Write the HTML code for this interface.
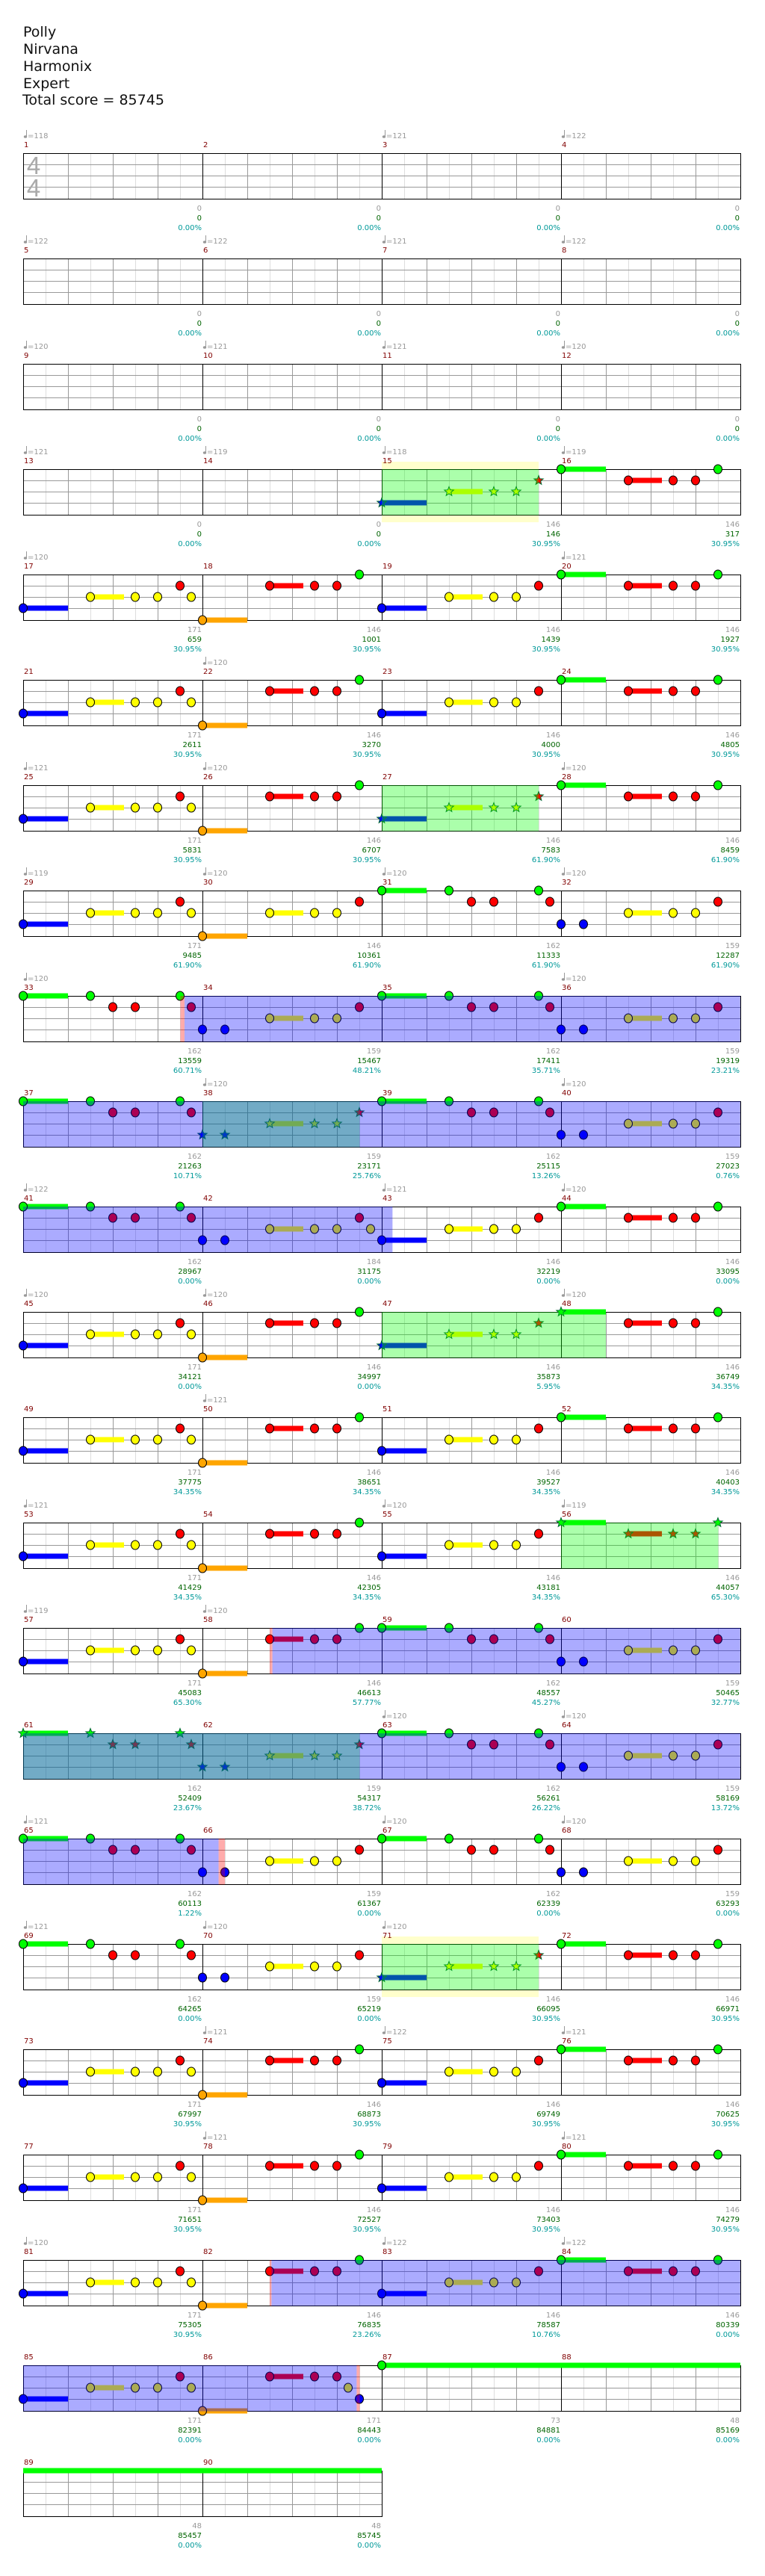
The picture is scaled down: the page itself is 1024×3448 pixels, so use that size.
<!DOCTYPE html>
<html><head><meta charset="utf-8"><style>
html,body{margin:0;padding:0;background:#fff}
svg{display:block}
text{font-family:"DejaVu Sans","Liberation Sans",sans-serif}
.ti{font-size:19px;fill:#111}
.n{font-size:10px;fill:#800000}
.t{font-size:10px;fill:#999}
.a{font-size:10px;fill:#999;text-anchor:end}
.b{font-size:10px;fill:#006400;text-anchor:end}
.p{font-size:10px;fill:#009999;text-anchor:end}
.ts{font-family:"Liberation Sans",sans-serif;font-size:33px;fill:#aaa;text-anchor:middle}
</style></head><body>
<svg id="s" xmlns="http://www.w3.org/2000/svg" width="1024" height="3448" viewBox="0 0 1024 3448">
<g id="G"></g>
<text class="ti" x="31" y="49">Polly</text>
<text class="ti" x="31" y="72">Nirvana</text>
<text class="ti" x="31" y="95">Harmonix</text>
<text class="ti" x="31" y="118">Expert</text>
<text class="ti" x="30" y="140">Total score = 85745</text>
<text class="ts" x="45" y="233">4</text>
<text class="ts" x="45" y="263">4</text>
<g id="L">
<g><text class="n">1</text><text class="t">=118</text><text class="a">0</text><text class="b">0</text><text class="p">0.00%</text></g>
<g><text class="n">2</text><text class="a">0</text><text class="b">0</text><text class="p">0.00%</text></g>
<g><text class="n">3</text><text class="t">=121</text><text class="a">0</text><text class="b">0</text><text class="p">0.00%</text></g>
<g><text class="n">4</text><text class="t">=122</text><text class="a">0</text><text class="b">0</text><text class="p">0.00%</text></g>
<g><text class="n">5</text><text class="t">=122</text><text class="a">0</text><text class="b">0</text><text class="p">0.00%</text></g>
<g><text class="n">6</text><text class="t">=122</text><text class="a">0</text><text class="b">0</text><text class="p">0.00%</text></g>
<g><text class="n">7</text><text class="t">=121</text><text class="a">0</text><text class="b">0</text><text class="p">0.00%</text></g>
<g><text class="n">8</text><text class="t">=122</text><text class="a">0</text><text class="b">0</text><text class="p">0.00%</text></g>
<g><text class="n">9</text><text class="t">=120</text><text class="a">0</text><text class="b">0</text><text class="p">0.00%</text></g>
<g><text class="n">10</text><text class="t">=121</text><text class="a">0</text><text class="b">0</text><text class="p">0.00%</text></g>
<g><text class="n">11</text><text class="t">=121</text><text class="a">0</text><text class="b">0</text><text class="p">0.00%</text></g>
<g><text class="n">12</text><text class="t">=120</text><text class="a">0</text><text class="b">0</text><text class="p">0.00%</text></g>
<g><text class="n">13</text><text class="t">=121</text><text class="a">0</text><text class="b">0</text><text class="p">0.00%</text></g>
<g><text class="n">14</text><text class="t">=119</text><text class="a">0</text><text class="b">0</text><text class="p">0.00%</text></g>
<g><text class="n">15</text><text class="t">=118</text><text class="a">146</text><text class="b">146</text><text class="p">30.95%</text></g>
<g><text class="n">16</text><text class="t">=119</text><text class="a">146</text><text class="b">317</text><text class="p">30.95%</text></g>
<g><text class="n">17</text><text class="t">=120</text><text class="a">171</text><text class="b">659</text><text class="p">30.95%</text></g>
<g><text class="n">18</text><text class="a">146</text><text class="b">1001</text><text class="p">30.95%</text></g>
<g><text class="n">19</text><text class="a">146</text><text class="b">1439</text><text class="p">30.95%</text></g>
<g><text class="n">20</text><text class="t">=121</text><text class="a">146</text><text class="b">1927</text><text class="p">30.95%</text></g>
<g><text class="n">21</text><text class="a">171</text><text class="b">2611</text><text class="p">30.95%</text></g>
<g><text class="n">22</text><text class="t">=120</text><text class="a">146</text><text class="b">3270</text><text class="p">30.95%</text></g>
<g><text class="n">23</text><text class="a">146</text><text class="b">4000</text><text class="p">30.95%</text></g>
<g><text class="n">24</text><text class="a">146</text><text class="b">4805</text><text class="p">30.95%</text></g>
<g><text class="n">25</text><text class="t">=121</text><text class="a">171</text><text class="b">5831</text><text class="p">30.95%</text></g>
<g><text class="n">26</text><text class="t">=120</text><text class="a">146</text><text class="b">6707</text><text class="p">30.95%</text></g>
<g><text class="n">27</text><text class="a">146</text><text class="b">7583</text><text class="p">61.90%</text></g>
<g><text class="n">28</text><text class="t">=120</text><text class="a">146</text><text class="b">8459</text><text class="p">61.90%</text></g>
<g><text class="n">29</text><text class="t">=119</text><text class="a">171</text><text class="b">9485</text><text class="p">61.90%</text></g>
<g><text class="n">30</text><text class="t">=120</text><text class="a">146</text><text class="b">10361</text><text class="p">61.90%</text></g>
<g><text class="n">31</text><text class="t">=120</text><text class="a">162</text><text class="b">11333</text><text class="p">61.90%</text></g>
<g><text class="n">32</text><text class="t">=120</text><text class="a">159</text><text class="b">12287</text><text class="p">61.90%</text></g>
<g><text class="n">33</text><text class="t">=120</text><text class="a">162</text><text class="b">13559</text><text class="p">60.71%</text></g>
<g><text class="n">34</text><text class="a">159</text><text class="b">15467</text><text class="p">48.21%</text></g>
<g><text class="n">35</text><text class="a">162</text><text class="b">17411</text><text class="p">35.71%</text></g>
<g><text class="n">36</text><text class="t">=120</text><text class="a">159</text><text class="b">19319</text><text class="p">23.21%</text></g>
<g><text class="n">37</text><text class="a">162</text><text class="b">21263</text><text class="p">10.71%</text></g>
<g><text class="n">38</text><text class="t">=120</text><text class="a">159</text><text class="b">23171</text><text class="p">25.76%</text></g>
<g><text class="n">39</text><text class="a">162</text><text class="b">25115</text><text class="p">13.26%</text></g>
<g><text class="n">40</text><text class="t">=120</text><text class="a">159</text><text class="b">27023</text><text class="p">0.76%</text></g>
<g><text class="n">41</text><text class="t">=122</text><text class="a">162</text><text class="b">28967</text><text class="p">0.00%</text></g>
<g><text class="n">42</text><text class="a">184</text><text class="b">31175</text><text class="p">0.00%</text></g>
<g><text class="n">43</text><text class="t">=121</text><text class="a">146</text><text class="b">32219</text><text class="p">0.00%</text></g>
<g><text class="n">44</text><text class="t">=120</text><text class="a">146</text><text class="b">33095</text><text class="p">0.00%</text></g>
<g><text class="n">45</text><text class="t">=120</text><text class="a">171</text><text class="b">34121</text><text class="p">0.00%</text></g>
<g><text class="n">46</text><text class="t">=120</text><text class="a">146</text><text class="b">34997</text><text class="p">0.00%</text></g>
<g><text class="n">47</text><text class="a">146</text><text class="b">35873</text><text class="p">5.95%</text></g>
<g><text class="n">48</text><text class="t">=120</text><text class="a">146</text><text class="b">36749</text><text class="p">34.35%</text></g>
<g><text class="n">49</text><text class="a">171</text><text class="b">37775</text><text class="p">34.35%</text></g>
<g><text class="n">50</text><text class="t">=121</text><text class="a">146</text><text class="b">38651</text><text class="p">34.35%</text></g>
<g><text class="n">51</text><text class="a">146</text><text class="b">39527</text><text class="p">34.35%</text></g>
<g><text class="n">52</text><text class="a">146</text><text class="b">40403</text><text class="p">34.35%</text></g>
<g><text class="n">53</text><text class="t">=121</text><text class="a">171</text><text class="b">41429</text><text class="p">34.35%</text></g>
<g><text class="n">54</text><text class="a">146</text><text class="b">42305</text><text class="p">34.35%</text></g>
<g><text class="n">55</text><text class="t">=120</text><text class="a">146</text><text class="b">43181</text><text class="p">34.35%</text></g>
<g><text class="n">56</text><text class="t">=119</text><text class="a">146</text><text class="b">44057</text><text class="p">65.30%</text></g>
<g><text class="n">57</text><text class="t">=119</text><text class="a">171</text><text class="b">45083</text><text class="p">65.30%</text></g>
<g><text class="n">58</text><text class="t">=120</text><text class="a">146</text><text class="b">46613</text><text class="p">57.77%</text></g>
<g><text class="n">59</text><text class="a">162</text><text class="b">48557</text><text class="p">45.27%</text></g>
<g><text class="n">60</text><text class="a">159</text><text class="b">50465</text><text class="p">32.77%</text></g>
<g><text class="n">61</text><text class="a">162</text><text class="b">52409</text><text class="p">23.67%</text></g>
<g><text class="n">62</text><text class="a">159</text><text class="b">54317</text><text class="p">38.72%</text></g>
<g><text class="n">63</text><text class="t">=120</text><text class="a">162</text><text class="b">56261</text><text class="p">26.22%</text></g>
<g><text class="n">64</text><text class="t">=120</text><text class="a">159</text><text class="b">58169</text><text class="p">13.72%</text></g>
<g><text class="n">65</text><text class="t">=121</text><text class="a">162</text><text class="b">60113</text><text class="p">1.22%</text></g>
<g><text class="n">66</text><text class="a">159</text><text class="b">61367</text><text class="p">0.00%</text></g>
<g><text class="n">67</text><text class="t">=120</text><text class="a">162</text><text class="b">62339</text><text class="p">0.00%</text></g>
<g><text class="n">68</text><text class="t">=120</text><text class="a">159</text><text class="b">63293</text><text class="p">0.00%</text></g>
<g><text class="n">69</text><text class="t">=121</text><text class="a">162</text><text class="b">64265</text><text class="p">0.00%</text></g>
<g><text class="n">70</text><text class="t">=120</text><text class="a">159</text><text class="b">65219</text><text class="p">0.00%</text></g>
<g><text class="n">71</text><text class="t">=120</text><text class="a">146</text><text class="b">66095</text><text class="p">30.95%</text></g>
<g><text class="n">72</text><text class="a">146</text><text class="b">66971</text><text class="p">30.95%</text></g>
<g><text class="n">73</text><text class="a">171</text><text class="b">67997</text><text class="p">30.95%</text></g>
<g><text class="n">74</text><text class="t">=121</text><text class="a">146</text><text class="b">68873</text><text class="p">30.95%</text></g>
<g><text class="n">75</text><text class="t">=122</text><text class="a">146</text><text class="b">69749</text><text class="p">30.95%</text></g>
<g><text class="n">76</text><text class="t">=121</text><text class="a">146</text><text class="b">70625</text><text class="p">30.95%</text></g>
<g><text class="n">77</text><text class="a">171</text><text class="b">71651</text><text class="p">30.95%</text></g>
<g><text class="n">78</text><text class="t">=121</text><text class="a">146</text><text class="b">72527</text><text class="p">30.95%</text></g>
<g><text class="n">79</text><text class="a">146</text><text class="b">73403</text><text class="p">30.95%</text></g>
<g><text class="n">80</text><text class="t">=121</text><text class="a">146</text><text class="b">74279</text><text class="p">30.95%</text></g>
<g><text class="n">81</text><text class="t">=120</text><text class="a">171</text><text class="b">75305</text><text class="p">30.95%</text></g>
<g><text class="n">82</text><text class="a">146</text><text class="b">76835</text><text class="p">23.26%</text></g>
<g><text class="n">83</text><text class="t">=122</text><text class="a">146</text><text class="b">78587</text><text class="p">10.76%</text></g>
<g><text class="n">84</text><text class="t">=122</text><text class="a">146</text><text class="b">80339</text><text class="p">0.00%</text></g>
<g><text class="n">85</text><text class="a">171</text><text class="b">82391</text><text class="p">0.00%</text></g>
<g><text class="n">86</text><text class="a">171</text><text class="b">84443</text><text class="p">0.00%</text></g>
<g><text class="n">87</text><text class="a">73</text><text class="b">84881</text><text class="p">0.00%</text></g>
<g><text class="n">88</text><text class="a">48</text><text class="b">85169</text><text class="p">0.00%</text></g>
<g><text class="n">89</text><text class="a">48</text><text class="b">85457</text><text class="p">0.00%</text></g>
<g><text class="n">90</text><text class="a">48</text><text class="b">85745</text><text class="p">0.00%</text></g>
</g>
</svg>
<script>
(function(){
var L=31,W=240;
function T(r){return 205+141*r;}
var h='';
// yellow boxes
[[3,2,2.875],[17,2,2.875]].forEach(function(o){var t=T(o[0]);h+='<rect x="'+(L+W*o[1])+'" y="'+(t-10)+'" width="'+(W*(o[2]-o[1]))+'" height="81" fill="#ffffcc"/>';});
// grid
for(var r=0;r<23;r++){
 var nm=r==22?2:4,t=T(r),w=W*nm;
 h+='<rect x="'+L+'" y="'+t+'" width="'+w+'" height="61" fill="#fff"/>';
 for(var k=1;k<nm*8;k++){ if(k%2) h+='<line x1="'+(L+30*k+.5)+'" y1="'+t+'" x2="'+(L+30*k+.5)+'" y2="'+(t+61)+'" stroke="#ddd"/>'; }
 for(var k=1;k<nm*8;k++){ if(k%2==0&&k%8) h+='<line x1="'+(L+30*k+.5)+'" y1="'+t+'" x2="'+(L+30*k+.5)+'" y2="'+(t+61)+'" stroke="#999"/>'; }
 [15,30,45].forEach(function(d){h+='<line x1="'+L+'" y1="'+(t+d+.5)+'" x2="'+(L+w)+'" y2="'+(t+d+.5)+'" stroke="#999"/>';});
 for(var k=1;k<nm;k++){h+='<line x1="'+(L+W*k+.5)+'" y1="'+t+'" x2="'+(L+W*k+.5)+'" y2="'+(t+61)+'" stroke="#000"/>';}
 h+='<rect x="'+(L+.5)+'" y="'+(t+.5)+'" width="'+w+'" height="61" fill="none" stroke="#000"/>';
}
// notes
var P={
A:[[3,0,.25],[2,.375,.5625],[2,.625],[2,.75],[1,.875],[2,.9375]],
S:[[3,0,.25],[2,.375,.5625],[2,.625],[2,.75],[1,.875]],
B:[[4,0,.25],[1,.375,.5625],[1,.625],[1,.75],[0,.875]],
D:[[0,0,.25],[1,.375,.5625],[1,.625],[1,.75],[0,.875]],
C:[[0,0,.25],[0,.375],[1,.5],[1,.625],[0,.875],[1,.9375]],
E:[[3,0],[3,.125],[2,.375,.5625],[2,.625],[2,.75],[1,.875]],
F:[[4,0,.25],[2,.375,.5625],[2,.625],[2,.75],[1,.875]],
G:[[3,0],[3,.125],[2,.375,.5625],[2,.625],[2,.75],[1,.875],[2,.9375]],
H:[[4,0,.25],[1,.375,.5625],[1,.625],[1,.75],[2,.8125],[3,.875]],
I:[[0,0,2]],
J:[[0,0,2,1]]
};
var seq="--------------SD"+"ABSDABSDABSDAF"+"CECECECECECG"+"SD"+"ABSDABSDABSDAB"+"CECECECECECE"+"SD"+"ABSDABSDABSD"+"AHI-J-";
var LY=[0,15,30,45,61],COL=['#00ff00','#ff0000','#ffff00','#0000ff','#ffa500'];
var STAR={15:1,27:1,38:1,47:1,56:1,61:1,62:1,71:1};
function star(x,y,c){var p=[];for(var i=0;i<10;i++){var a=(-90+36*i)*Math.PI/180,rr=i%2?2.8:6.5;p.push((x+rr*Math.cos(a)).toFixed(1)+','+(y+rr*Math.sin(a)).toFixed(1));}return '<polygon points="'+p.join(' ')+'" fill="'+c+'" stroke="#063" stroke-width="1"/>';}
var heads='',sus='';
for(var m=1;m<=90;m++){
 var ch=seq[m-1];if(ch=='-')continue;
 var r=Math.floor((m-1)/4),c=(m-1)%4,x0=L+W*c,t=T(r);
 P[ch].forEach(function(n,i){
  var x=x0+W*n[1],y=t+LY[n[0]],col=COL[n[0]];
  if(n[2])sus+='<rect x="'+x+'" y="'+(y-3.5)+'" width="'+(W*(n[2]-n[1]))+'" height="7" fill="'+col+'"/>';
  if(n[3])return;
  var st=STAR[m]||(m==48&&i==0);
  if(st)heads+=star(x,y,col);else heads+='<ellipse cx="'+x+'" cy="'+y+'" rx="5.5" ry="6" fill="'+col+'" stroke="#000" stroke-width="1"/>';
 });
}
h+=sus+heads;
// overlays
function ov(list,col){list.forEach(function(o){var t=T(o[0]);h+='<rect x="'+(L+W*o[1])+'" y="'+t+'" width="'+(W*(o[2]-o[1]))+'" height="61.5" fill="'+col+'"/>';});}
ov([[3,2,2.875],[6,2,2.875],[9,1,1.877],[11,2,3.25],[13,3,3.877],[15,0,1.877],[17,2,2.875]],'rgba(0,255,0,0.33)');
ov([[8,0.9,4],[9,0,4],[10,0,2.06],[14,1.39,4],[15,0,4],[16,0,1.09],[20,1.385,4],[21,0,1.86]],'rgba(0,0,255,0.33)');
ov([[8,0.877,0.9],[14,1.375,1.39],[16,1.09,1.125],[20,1.375,1.385],[21,1.86,1.877]],'rgba(255,0,0,0.33)');
document.getElementById('G').innerHTML=h;
// labels
var gs=document.querySelectorAll('#L>g');
var pos={n:[1,-8],t:[6,-20],a:[239,77],b:[239,90],p:[239,103]};
for(var i=0;i<gs.length;i++){
 var r=Math.floor(i/4),c=i%4,g=gs[i];
 g.setAttribute('transform','translate('+(L+W*c)+','+T(r)+')');
 var ts=g.querySelectorAll('text');
 for(var j=0;j<ts.length;j++){var cl=ts[j].getAttribute('class'),p=pos[cl];ts[j].setAttribute('x',p[0]);ts[j].setAttribute('y',p[1]);
  if(cl=='t'){var e=document.createElementNS('http://www.w3.org/2000/svg','g');e.innerHTML='<line x1="4.5" y1="-31" x2="4.5" y2="-22" stroke="#999" stroke-width="1"/><ellipse cx="3" cy="-22" rx="2.2" ry="1.8" fill="#999"/>';g.appendChild(e);}
 }
}
})();
</script>
</body></html>
